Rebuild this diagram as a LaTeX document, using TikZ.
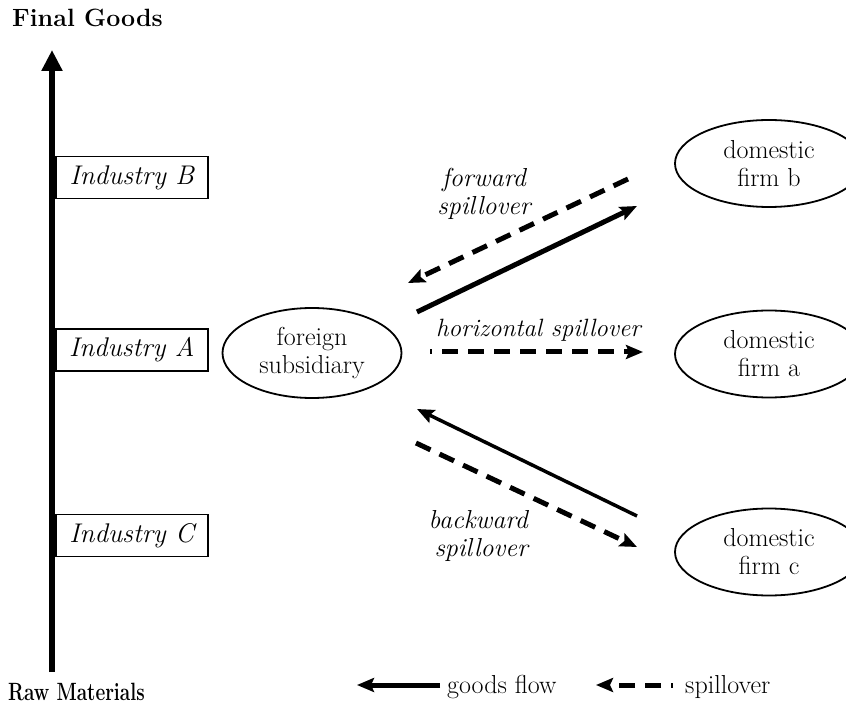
\documentclass[tikz,border=0pt]{standalone}
\usetikzlibrary{shapes.geometric,arrows.meta}
\begin{document}
\begin{tikzpicture}[x=1pt,y=-1pt,
  txt/.style={font=\fontsize{26}{28}\selectfont, inner sep=0pt},
  ttl/.style={font=\fontsize{25}{27}\selectfont\bfseries, inner sep=0pt, anchor=base west},
  ind/.style={draw, line width=1.6pt, minimum width=152pt, minimum height=42pt, inner sep=0pt, font=\fontsize{27}{28}\selectfont\itshape},
  blob/.style={draw, ellipse, line width=1.8pt, minimum width=179pt, minimum height=90pt, inner sep=0pt, align=center, font=\fontsize{26}{28}\selectfont},
  dom/.style={blob, minimum width=188pt, minimum height=87pt},
  tipS/.style={-{Stealth[length=17pt,width=14pt,inset=3pt]}},
  goods/.style={tipS, line width=5pt},
  spill/.style={tipS, line width=5pt, dash pattern=on 16pt off 10pt},
  lab/.style={font=\fontsize{26}{28}\selectfont\itshape, inner sep=0pt, align=center}
]
\useasboundingbox (0,0) rectangle (846,708);
% axis
\coordinate (raw) at (52,672);
\coordinate (fin) at (52,50);
\draw[line width=6pt, -{Triangle[length=21pt,width=20pt]}] (raw) -- (fin);
\node[ttl] (tfinal) at (12,27) {Final Goods};
\node[ttl] (traw) at (8,700) {\scalebox{0.76}[1]{Raw Materials}};
% industries
\node[ind, anchor=west] (indB) at (55,177.5) {Industry B};
\node[ind, anchor=west] (indA) at (55,350) {Industry A};
\node[ind, anchor=west] (indC) at (55,535.5) {Industry C};
% ellipses
\node[blob] (fs) at (312,353) {foreign\\subsidiary};
\node[dom] (db) at (769,163.5) {domestic\\firm b};
\node[dom] (da) at (769,354) {domestic\\firm a};
\node[dom] (dc) at (769,552) {domestic\\firm c};
% arrow end points
\coordinate (fwdS0) at (628,179);
\coordinate (fwdS1) at (408,283);
\coordinate (fwdG0) at (417,312);
\coordinate (fwdG1) at (637,206);
\coordinate (hor0) at (430,352);
\coordinate (hor1) at (643,352);
\coordinate (bwdG0) at (637,516);
\coordinate (bwdG1) at (417,409);
\coordinate (bwdS0) at (416,443);
\coordinate (bwdS1) at (637,547);
\draw[spill] (fwdS0) -- (fwdS1);
\draw[goods] (fwdG0) -- (fwdG1);
\draw[spill, dash phase=14pt] (hor0) -- (hor1);
\draw[goods, line width=3.5pt] (bwdG0) -- (bwdG1);
\draw[spill] (bwdS0) -- (bwdS1);
% labels
\node[lab] (lfwd) at (484,194) {forward\\spillover};
\node[lab, align=right, anchor=east] (lbwd) at (528,536) {backward\\spillover};
\node[lab, anchor=base west, font=\fontsize{25}{28}\selectfont\itshape] (lhor) at (436,337) {horizontal spillover};
% legend
\coordinate (lg0) at (440,685);
\coordinate (lg1) at (357,685);
\draw[goods] (lg0) -- (lg1);
\node[txt, anchor=base west] (lgt) at (447,693) {goods flow};
\coordinate (ls0) at (673,685);
\coordinate (ls1) at (596,685);
\draw[spill, dash phase=14pt] (ls0) -- (ls1);
\node[txt, anchor=base west] (lst) at (685,693) {spillover};
\end{tikzpicture}
\end{document}
